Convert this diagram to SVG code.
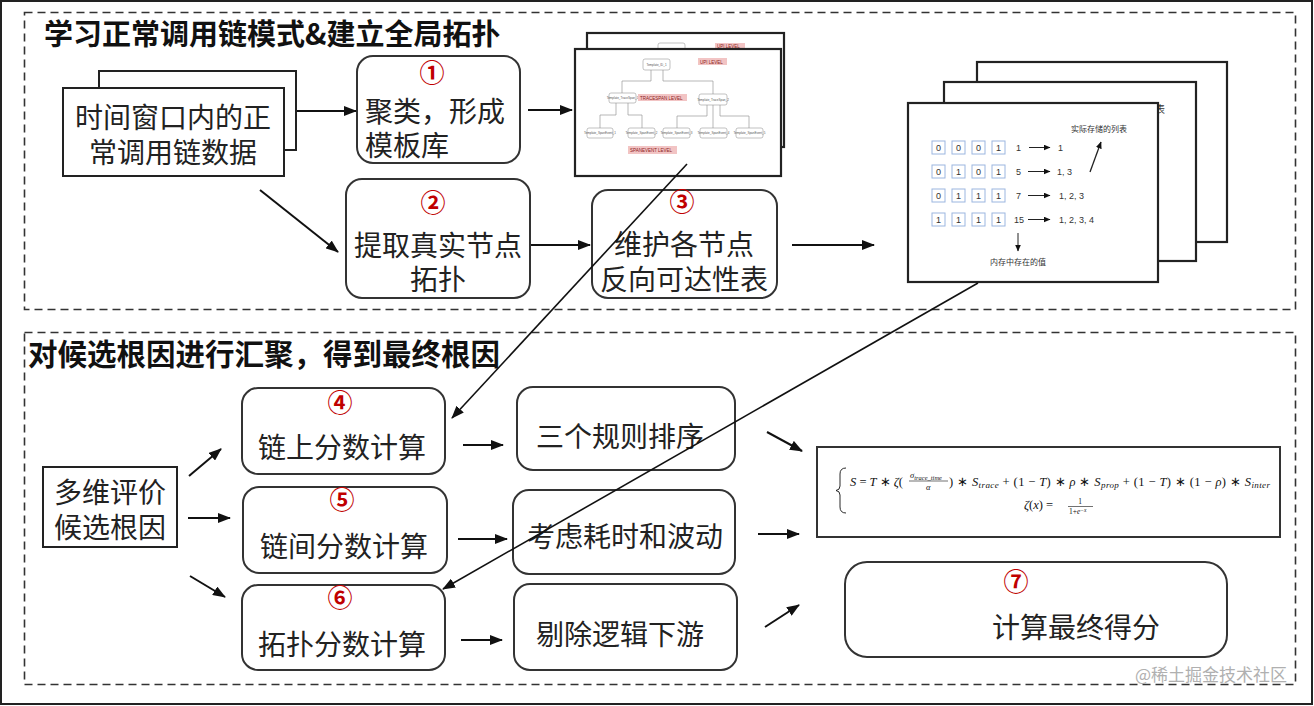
<svg xmlns="http://www.w3.org/2000/svg" width="1314" height="706" viewBox="0 0 1314 706">
<defs>
<marker id="ah" markerUnits="userSpaceOnUse" markerWidth="13" markerHeight="10" refX="12" refY="5" orient="auto">
<path d="M0,0 L13,5 L0,10 z" fill="#111"/>
</marker>
<marker id="ahs" markerUnits="userSpaceOnUse" markerWidth="7" markerHeight="6" refX="6.5" refY="3" orient="auto">
<path d="M0,0 L7,3 L0,6 z" fill="#111"/>
</marker>
<style>
.zh{font-family:"Noto Sans CJK SC","Noto Sans",sans-serif;fill:#222}
.t{font-size:28px}
.ttl{font-size:29px;font-weight:bold;fill:#111}
.num{font-family:"Noto Sans CJK SC",sans-serif;font-size:25px;font-weight:bold;fill:#c00000;text-anchor:middle}
.box{fill:#fff;stroke:#333;stroke-width:2}
.frame{fill:#fff;stroke:#222;stroke-width:2.2}
.dash{fill:none;stroke:#333;stroke-width:1.6;stroke-dasharray:8 5}
.arr{stroke:#111;stroke-width:2;fill:none;marker-end:url(#ah)}
.long{stroke:#111;stroke-width:1.6;fill:none;marker-end:url(#ah)}
.tb{fill:#fff;stroke:#999;stroke-width:0.6}
.tt{font-family:"Liberation Sans",sans-serif;font-size:3px;fill:#555;text-anchor:middle}
.pk{fill:#f2c4c4}
.pt{font-family:"Liberation Sans",sans-serif;font-size:4.5px;fill:#8b2020}
.tl{stroke:#999;stroke-width:0.7;fill:none}
.cell{fill:#fff;stroke:#9bb6e0;stroke-width:1}
.cd{font-family:"Liberation Sans",sans-serif;font-size:9px;fill:#333;text-anchor:middle}
.cv{font-family:"Liberation Sans",sans-serif;font-size:9px;fill:#333}
.cz{font-family:"Noto Sans CJK SC",sans-serif;font-size:8px;fill:#333}
.m{font-family:"Liberation Serif",serif;font-size:12.5px;fill:#111}
.mi{font-style:italic}
</style>
</defs>

<rect x="1" y="1" width="1311" height="703" fill="#fff" stroke="#222" stroke-width="2"/>

<g id="section-top">
<rect class="dash" x="24.5" y="12.5" width="1271" height="297"/>
<text class="zh ttl" x="44" y="45">学习正常调用链模式&amp;建立全局拓扑</text>
</g>
<g id="section-bottom">
<rect class="dash" x="24.5" y="332.5" width="1271" height="352"/>
<text class="zh ttl" x="28" y="365" style="font-size:29.5px">对候选根因进行汇聚，得到最终根因</text>
</g>

<g id="node-data">
<rect class="frame" x="99" y="71" width="197" height="79" style="stroke-width:2"/>
<rect class="frame" x="63" y="88" width="221" height="88" style="stroke-width:2"/>
<text class="zh t" text-anchor="middle"><tspan x="173" y="128">时间窗口内的正</tspan><tspan x="173" y="163">常调用链数据</tspan></text>
</g>

<g id="node-1">
<rect class="box" x="357" y="56" width="163" height="107" rx="16"/>
<text class="num" x="432" y="82">①</text>
<text class="zh t"><tspan x="365" y="122">聚类，形成</tspan><tspan x="365" y="156">模板库</tspan></text>
</g>

<g id="node-2">
<rect class="box" x="346" y="179" width="184" height="119" rx="16"/>
<text class="num" x="433" y="212">②</text>
<text class="zh t" text-anchor="middle"><tspan x="438" y="256">提取真实节点</tspan><tspan x="438" y="290">拓扑</tspan></text>
</g>

<g id="node-3">
<rect class="box" x="592" y="190" width="185" height="108" rx="16"/>
<text class="num" x="682" y="211">③</text>
<text class="zh t" text-anchor="middle"><tspan x="684" y="255">维护各节点</tspan><tspan x="684" y="290">反向可达性表</tspan></text>
</g>

<g id="node-template-image">
<rect class="frame" x="587" y="33" width="197" height="114"/>
<rect class="tb" x="658" y="43" width="27" height="10" rx="2"/>
<rect class="pk" x="715" y="43" width="30" height="6"/>
<text class="pt" x="717" y="48">UPI LEVEL</text>
<rect class="frame" x="575" y="49" width="206" height="127"/>
<g>
<path class="tl" d="M651,70 V81 H622 V93 M663,70 V81 H713 V94"/>
<path class="tl" d="M616,103 V115 H600 V128 M628,103 V115 H642 V128"/>
<path class="tl" d="M707,105 V116 H677 V128 M713,105 V128 M720,105 V116 H749 V128"/>
<rect class="tb" x="643" y="59" width="27" height="11" rx="2"/>
<text class="tt" x="656.5" y="66">Template_ID_1</text>
<rect class="pk" x="698" y="58" width="29" height="7"/>
<text class="pt" x="700" y="63.5">UPI LEVEL</text>
<rect class="tb" x="609" y="93" width="27" height="10" rx="2"/>
<text class="tt" x="622.5" y="99">Template_TraceSpan_1</text>
<rect class="pk" x="638" y="94" width="49" height="7"/>
<text class="pt" x="640" y="99.5">TRACESPAN LEVEL</text>
<rect class="tb" x="699" y="94" width="28" height="11" rx="2"/>
<text class="tt" x="713" y="100.5">Template_TraceSpan_2</text>
<rect class="tb" x="587" y="128" width="26" height="10" rx="2"/>
<text class="tt" x="600" y="134">Template_SpanEvent_1</text>
<rect class="tb" x="628" y="128" width="27" height="10" rx="2"/>
<text class="tt" x="641.5" y="134">Template_SpanEvent_2</text>
<rect class="tb" x="663" y="128" width="27" height="10" rx="2"/>
<text class="tt" x="676.5" y="134">Template_SpanEvent_3</text>
<rect class="tb" x="700" y="128" width="27" height="10" rx="2"/>
<text class="tt" x="713.5" y="134">Template_SpanEvent_4</text>
<rect class="tb" x="736" y="128" width="27" height="10" rx="2"/>
<text class="tt" x="749.5" y="134">Template_SpanEvent_5</text>
<rect class="pk" x="628" y="146" width="49" height="8"/>
<text class="pt" x="630" y="152">SPANEVENT LEVEL</text>
</g>
</g>

<g id="node-table-image">
<rect class="frame" x="977" y="62" width="250" height="180"/>
<rect class="frame" x="944" y="82" width="252" height="179"/>
<text class="cz" x="1095" y="113" style="font-size:10px">实际存储的列表</text>
<rect class="frame" x="908" y="103" width="250" height="179"/>
<text class="cz" x="1071" y="132">实际存储的列表</text>
<g>
<rect class="cell" x="932" y="141" width="13" height="13"/><text class="cd" x="938.5" y="151">0</text>
<rect class="cell" x="952" y="141" width="13" height="13"/><text class="cd" x="958.5" y="151">0</text>
<rect class="cell" x="972" y="141" width="13" height="13"/><text class="cd" x="978.5" y="151">0</text>
<rect class="cell" x="992" y="141" width="13" height="13"/><text class="cd" x="998.5" y="151">1</text>
<text class="cv" x="1016" y="151">1</text>
<line x1="1029" y1="147.5" x2="1050" y2="147.5" stroke="#222" stroke-width="1" marker-end="url(#ahs)"/>
<text class="cv" x="1058" y="151">1</text>

<rect class="cell" x="932" y="165" width="13" height="13"/><text class="cd" x="938.5" y="175">0</text>
<rect class="cell" x="952" y="165" width="13" height="13"/><text class="cd" x="958.5" y="175">1</text>
<rect class="cell" x="972" y="165" width="13" height="13"/><text class="cd" x="978.5" y="175">0</text>
<rect class="cell" x="992" y="165" width="13" height="13"/><text class="cd" x="998.5" y="175">1</text>
<text class="cv" x="1016" y="175">5</text>
<line x1="1028" y1="171.5" x2="1050" y2="171.5" stroke="#222" stroke-width="1" marker-end="url(#ahs)"/>
<text class="cv" x="1057" y="175">1, 3</text>

<rect class="cell" x="932" y="189" width="13" height="13"/><text class="cd" x="938.5" y="199">0</text>
<rect class="cell" x="952" y="189" width="13" height="13"/><text class="cd" x="958.5" y="199">1</text>
<rect class="cell" x="972" y="189" width="13" height="13"/><text class="cd" x="978.5" y="199">1</text>
<rect class="cell" x="992" y="189" width="13" height="13"/><text class="cd" x="998.5" y="199">1</text>
<text class="cv" x="1016" y="199">7</text>
<line x1="1028" y1="195.5" x2="1050" y2="195.5" stroke="#222" stroke-width="1" marker-end="url(#ahs)"/>
<text class="cv" x="1059" y="199">1, 2, 3</text>

<rect class="cell" x="932" y="213" width="13" height="13"/><text class="cd" x="938.5" y="223">1</text>
<rect class="cell" x="952" y="213" width="13" height="13"/><text class="cd" x="958.5" y="223">1</text>
<rect class="cell" x="972" y="213" width="13" height="13"/><text class="cd" x="978.5" y="223">1</text>
<rect class="cell" x="992" y="213" width="13" height="13"/><text class="cd" x="998.5" y="223">1</text>
<text class="cv" x="1014" y="223">15</text>
<line x1="1028" y1="219.5" x2="1050" y2="219.5" stroke="#222" stroke-width="1" marker-end="url(#ahs)"/>
<text class="cv" x="1059" y="223">1, 2, 3, 4</text>

<line x1="1090" y1="172" x2="1101" y2="142" stroke="#222" stroke-width="1.3" marker-end="url(#ahs)"/>
<line x1="1018" y1="233" x2="1018" y2="251" stroke="#222" stroke-width="1" marker-end="url(#ahs)"/>
<text class="cz" x="990" y="265">内存中存在的值</text>
</g>
</g>

<g id="node-eval">
<rect class="frame" x="43" y="467" width="134" height="80" style="stroke-width:2"/>
<text class="zh t" text-anchor="middle"><tspan x="110" y="503">多维评价</tspan><tspan x="110" y="538">候选根因</tspan></text>
</g>

<g id="node-4">
<rect class="box" x="242" y="388" width="203" height="86" rx="16"/>
<text class="num" x="340" y="412">④</text>
<text class="zh t" x="342" y="458" text-anchor="middle">链上分数计算</text>
</g>
<g id="node-5">
<rect class="box" x="243" y="487" width="204" height="86" rx="16"/>
<text class="num" x="342" y="509">⑤</text>
<text class="zh t" x="344" y="557" text-anchor="middle">链间分数计算</text>
</g>
<g id="node-6">
<rect class="box" x="242" y="585" width="203" height="85" rx="16"/>
<text class="num" x="340" y="607">⑥</text>
<text class="zh t" x="342" y="655" text-anchor="middle">拓扑分数计算</text>
</g>

<g id="node-rules">
<rect class="box" x="517" y="387" width="218" height="83" rx="16"/>
<text class="zh t" x="620" y="447" text-anchor="middle">三个规则排序</text>
</g>
<g id="node-time">
<rect class="box" x="513" y="490" width="222" height="84" rx="16"/>
<text class="zh t" x="625" y="547" text-anchor="middle">考虑耗时和波动</text>
</g>
<g id="node-down">
<rect class="box" x="514" y="584" width="223" height="86" rx="16"/>
<text class="zh t" x="620" y="645" text-anchor="middle">剔除逻辑下游</text>
</g>

<g id="node-formula">
<rect x="817" y="447" width="463" height="90" fill="#fff" stroke="#333" stroke-width="2"/>
<path d="M846,468 Q840,468 840,474 V486 Q840,490 836,490.5 Q840,491 840,495 V507 Q840,513 846,513" fill="none" stroke="#111" stroke-width="0.9"/>
<text class="m" x="850" y="486"><tspan class="mi">S</tspan> = <tspan class="mi">T</tspan> ∗ <tspan class="mi">ζ</tspan>(</text>
<text class="m mi" x="910" y="478" style="font-size:8.5px">σ<tspan style="font-size:6.5px" dy="1.5">trace_time</tspan></text>
<line x1="909" y1="481" x2="948" y2="481" stroke="#111" stroke-width="0.6"/>
<text class="m mi" x="926" y="490" style="font-size:8.5px">α</text>
<text class="m" x="949" y="486" textLength="321" lengthAdjust="spacing">) ∗ <tspan class="mi">S</tspan><tspan class="mi" style="font-size:9px" dy="2">trace</tspan><tspan dy="-2"> + (1 − </tspan><tspan class="mi">T</tspan>) ∗ <tspan class="mi">ρ</tspan> ∗ <tspan class="mi">S</tspan><tspan class="mi" style="font-size:9px" dy="2">prop</tspan><tspan dy="-2"> + (1 − </tspan><tspan class="mi">T</tspan>) ∗ (1 − <tspan class="mi">ρ</tspan>) ∗ <tspan class="mi">S</tspan><tspan class="mi" style="font-size:9px" dy="2">inter</tspan></text>
<text class="m" x="1024" y="509"><tspan class="mi">ζ</tspan>(<tspan class="mi">x</tspan>) =</text>
<text class="m" x="1080" y="504" style="font-size:7.5px" text-anchor="middle">1</text>
<line x1="1068" y1="506.5" x2="1093" y2="506.5" stroke="#111" stroke-width="0.6"/>
<text class="m" x="1069" y="514" style="font-size:7.5px">1+<tspan class="mi">e</tspan><tspan class="mi" style="font-size:5.5px" dy="-2.5">−x</tspan></text>
</g>

<g id="node-7">
<rect class="box" x="845" y="562" width="382" height="95" rx="22"/>
<text class="num" x="1016" y="591">⑦</text>
<text class="zh t" x="1076" y="638" text-anchor="middle">计算最终得分</text>
</g>

<g id="connectors">
<line class="arr" x1="297" y1="111" x2="356" y2="111"/>
<line class="arr" x1="528" y1="110" x2="572" y2="110"/>
<line class="arr" x1="260" y1="190" x2="338" y2="252"/>
<line class="arr" x1="531" y1="245" x2="590" y2="245"/>
<line class="arr" x1="792" y1="245" x2="874" y2="245"/>
<line class="long" x1="687" y1="164" x2="452" y2="418"/>
<line class="long" x1="978" y1="283" x2="443" y2="589"/>
<line class="arr" x1="189" y1="476" x2="221" y2="449"/>
<line class="arr" x1="188" y1="518" x2="230" y2="518"/>
<line class="arr" x1="190" y1="576" x2="225" y2="597"/>
<line class="arr" x1="463" y1="445" x2="503" y2="445"/>
<line class="arr" x1="458" y1="539" x2="507" y2="539"/>
<line class="arr" x1="461" y1="640" x2="502" y2="640"/>
<line class="arr" x1="767" y1="432" x2="802" y2="451"/>
<line class="arr" x1="758" y1="534" x2="799" y2="534"/>
<line class="arr" x1="765" y1="627" x2="799" y2="605"/>
</g>

<text x="1135" y="681" style="font-family:'Noto Sans CJK SC',sans-serif;font-size:17px;fill:#b0b0b0">@稀土掘金技术社区</text>
</svg>
